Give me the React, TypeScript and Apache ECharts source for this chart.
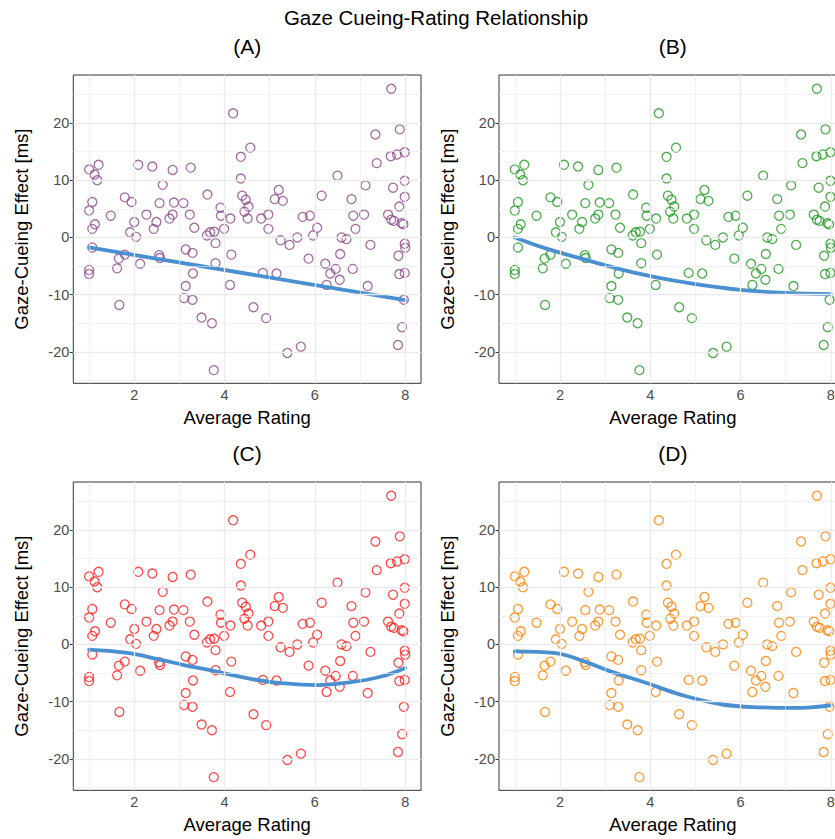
import React, { useEffect, useRef } from "react";
import * as echarts from "echarts";

// Average rating (x) and gaze-cueing effect in ms (y), same participants in every panel
const ratingX = [
  4.19, 1.0, 1.21, 1.12, 1.18, 2.09, 2.4, 2.85, 3.25, 2.63, 4.36, 4.36, 4.57, 1.07, 1.0, 1.79, 1.94, 1.48, 1.13, 1.07,
  2.0, 2.27, 2.49, 2.56, 2.88, 3.09, 2.85, 2.78, 3.23, 3.62, 3.91, 3.92, 4.13, 4.39, 4.47, 4.44, 4.51, 2.43, 1.91, 3.33,
  3.68, 3.77, 3.99, 2.04, 3.61, 3.8, 1.07, 1.0, 1.0, 1.66, 1.79, 1.62, 2.13, 2.55, 2.57, 3.14, 3.29, 3.8, 4.15, 3.3,
  3.14, 4.12, 3.1, 3.29, 1.67, 3.49, 3.72, 3.76, 4.64, 7.69, 7.34, 7.88, 7.37, 7.68, 7.82, 7.99, 6.5, 7.12, 7.73, 7.99,
  7.99, 7.87, 5.2, 5.11, 5.29, 6.15, 6.81, 4.53, 4.81, 4.97, 5.73, 5.89, 6.85, 7.09, 7.62, 7.69, 7.75, 7.92, 7.96, 4.97,
  6.05, 6.9, 5.96, 5.24, 5.44, 5.61, 6.59, 6.7, 7.23, 6.56, 5.86, 6.23, 6.34, 6.46, 6.55, 6.84, 6.26, 7.17, 4.85, 5.15,
  4.92, 5.39, 5.69, 7.99, 8.0, 7.85, 7.99, 7.87, 7.97, 7.93, 7.84,
];
const effectY = [
  21.7, 11.9, 12.7, 11.0, 10.0, 12.7, 12.4, 11.8, 12.2, 9.2, 14.1, 10.3, 15.7, 6.2, 4.7, 7.0, 6.2, 3.8, 2.3, 1.5,
  2.7, 4.0, 2.7, 6.0, 6.1, 6.0, 4.0, 3.3, 4.0, 7.5, 5.2, 3.8, 3.3, 7.3, 6.6, 4.5, 3.3, 1.5, 0.9, 1.7,
  0.9, 1.0, 1.5, 0.1, 0.35, -1.0, -1.75, -5.7, -6.4, -3.7, -3.0, -5.4, -4.6, -3.1, -3.6, -2.1, -2.7, -4.5, -3.0, -6.3,
  -8.5, -8.3, -10.6, -10.9, -11.8, -14.0, -15.0, -23.2, -12.2, 26.0, 18.0, 18.9, 13.0, 14.2, 14.5, 14.9, 10.8, 9.1, 8.7, 9.9,
  7.1, 5.4, 8.3, 6.7, 6.4, 7.3, 6.7, 5.4, 3.3, 4.0, 3.6, 3.8, 3.8, 4.0, 4.0, 3.1, 2.9, 2.5, 2.3, 1.5,
  1.7, 1.5, 0.35, -0.5, -1.3, 0.0, 0.0, -0.3, -1.3, -2.9, -3.7, -4.6, -6.3, -5.5, -7.4, -5.5, -8.3, -8.5, -6.2, -6.3,
  -14.1, -20.2, -19.1, -1.1, -1.8, -3.2, -6.2, -6.4, -10.9, -15.7, -18.8,
];

// Fitted curves
const fitAX = [1, 8];
const fitAY = [-1.75, -10.95];
const fitBX = [1, 1.7, 2.5, 3.3, 4.05, 5, 6, 7, 8];
const fitBY = [0, -1.95, -3.75, -5.5, -6.85, -8.15, -9.15, -9.7, -9.9];
const fitCX = [1, 1.8, 2.55, 3.1, 3.8, 4.6, 5.25, 6.05, 6.8, 7.45, 8];
const fitCY = [-0.9, -1.45, -2.6, -3.6, -4.7, -6.05, -6.75, -7.1, -6.6, -5.65, -4.1];
const fitDX = [1, 1.9, 2.55, 3.15, 3.9, 4.7, 5.6, 6.45, 7.2, 8];
const fitDY = [-1.2, -1.5, -3.0, -4.8, -6.7, -8.85, -10.5, -11.0, -11.1, -10.65];

const panelTitles = ["(A)", "(B)", "(C)", "(D)"];
const pointColors = ["#8B4789", "#1F961F", "#FF1A1A", "#FF7F00"];
const xTicks = [2, 4, 6, 8];
const xMinor = [1, 3, 5, 7];
const yTicks = [-20, -10, 0, 10, 20];
const yMinor = [-25, -15, -5, 5, 15, 25];

const FONT = "'Liberation Sans', Arial, Helvetica, sans-serif";

export default function App() {
  const ref = useRef<HTMLDivElement>(null);
  useEffect(() => {
    document.body.style.margin = "0";
    if (!ref.current) return;
    const chart = echarts.init(ref.current, undefined, { renderer: "svg" });

    const fits = [
      [fitAX, fitAY],
      [fitBX, fitBY],
      [fitCX, fitCY],
      [fitDX, fitDY],
    ];
    const lefts = [73.3, 499, 73.3, 499];
    const tops = [75, 75, 482, 482];
    const W = 347.7;
    const H = 308.3;

    const grids: any[] = [];
    const xAxes: any[] = [];
    const yAxes: any[] = [];
    const series: any[] = [];
    const graphics: any[] = [
      {
        type: "text",
        x: 436,
        y: 17,
        style: {
          text: "Gaze Cueing-Rating Relationship",
          fontSize: 20.5,
          fontFamily: FONT,
          fill: "#000",
          textAlign: "center",
          textVerticalAlign: "middle",
        },
      },
    ];

    const points = ratingX.map((x, i) => [x, effectY[i]]);

    for (let i = 0; i < 4; i++) {
      grids.push({
        left: lefts[i],
        top: tops[i],
        width: W,
        height: H,
        containLabel: false,
        outerBoundsMode: "none",
        show: true,
        backgroundColor: "#fff",
        borderColor: "#333333",
        borderWidth: 1,
      });
      xAxes.push({
        type: "value",
        gridIndex: i,
        min: 0.65,
        max: 8.35,
        axisLine: { show: false },
        axisTick: { show: true, length: 3.5, lineStyle: { color: "#333", width: 1 }, customValues: xTicks },
        axisLabel: { customValues: xTicks, color: "#4D4D4D", fontSize: 14.5, margin: 4, fontFamily: FONT },
        splitLine: { show: false },
        name: "Average Rating",
        nameLocation: "middle",
        nameGap: 25,
        nameTextStyle: { fontSize: 18.5, color: "#000", fontFamily: FONT },
      });
      yAxes.push({
        type: "value",
        gridIndex: i,
        min: -25.5,
        max: 28.4,
        axisLine: { show: false },
        axisTick: { show: true, length: 3.5, lineStyle: { color: "#333", width: 1 }, customValues: yTicks },
        axisLabel: { customValues: yTicks, color: "#4D4D4D", fontSize: 14.5, margin: 4, fontFamily: FONT },
        splitLine: { show: false },
        name: "Gaze-Cueing Effect [ms]",
        nameLocation: "middle",
        nameGap: 42,
        nameTextStyle: { fontSize: 18.5, color: "#000", fontFamily: FONT },
      });
      const gridLines: any[] = [];
      yTicks.forEach((v) => gridLines.push({ yAxis: v, lineStyle: { width: 1.3 } }));
      xTicks.forEach((v) => gridLines.push({ xAxis: v, lineStyle: { width: 1.3 } }));
      yMinor.forEach((v) => gridLines.push({ yAxis: v, lineStyle: { width: 0.65 } }));
      xMinor.forEach((v) => gridLines.push({ xAxis: v, lineStyle: { width: 0.65 } }));
      series.push({
        type: "line",
        xAxisIndex: i,
        yAxisIndex: i,
        data: [],
        z: 1,
        silent: true,
        markLine: {
          silent: true,
          symbol: ["none", "none"],
          label: { show: false },
          lineStyle: { color: "#EBEBEB", type: "solid" },
          data: gridLines,
        },
      });
      series.push({
        type: "scatter",
        xAxisIndex: i,
        yAxisIndex: i,
        data: points,
        symbol: "circle",
        symbolSize: 9,
        z: 3,
        itemStyle: { color: "rgba(0,0,0,0)", borderColor: pointColors[i], borderWidth: 1.3 },
      });
      const [fx, fy] = fits[i];
      series.push({
        type: "line",
        xAxisIndex: i,
        yAxisIndex: i,
        data: fx.map((x, k) => [x, fy[k]]),
        smooth: 0.4,
        showSymbol: false,
        z: 4,
        lineStyle: { color: "#4A8FD0", width: 3.8, cap: "round" },
      });
      graphics.push({
        type: "text",
        x: lefts[i] + W / 2,
        y: tops[i] - 29,
        style: {
          text: panelTitles[i],
          fontSize: 21,
          fontFamily: FONT,
          fill: "#000",
          textAlign: "center",
          textVerticalAlign: "middle",
        },
      });
    }

    chart.setOption({
      animation: false,
      backgroundColor: "#fff",
      grid: grids,
      xAxis: xAxes,
      yAxis: yAxes,
      series,
      graphic: graphics,
    });
    return () => chart.dispose();
  }, []);
  return <div ref={ref} style={{ width: 835, height: 839 }} />;
}
